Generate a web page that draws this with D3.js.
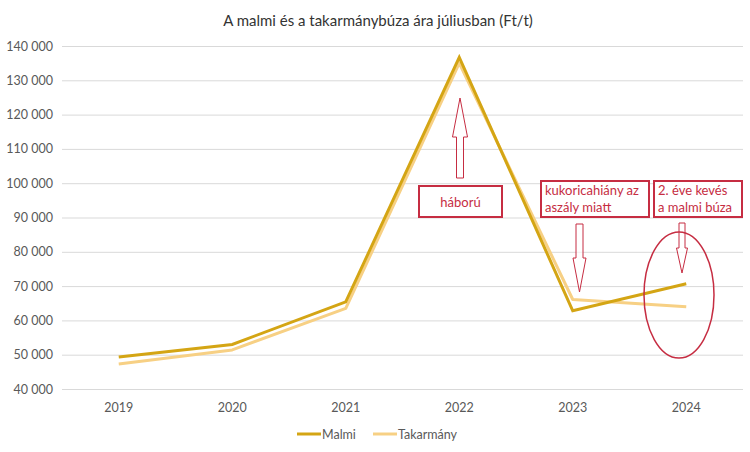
<!DOCTYPE html>
<html><head><meta charset="utf-8">
<script src="https://cdn.jsdelivr.net/npm/d3@7"></script>
<style>body{margin:0;background:#fff}svg{display:block;font-family:Lato,"Open Sans",sans-serif}</style>
</head><body><svg id="c" width="750" height="452"></svg>
<script>
const years = ["2019","2020","2021","2022","2023","2024"];
const malmi = [49300, 53000, 65400, 136700, 62800, 70700];
const takarmany = [47300, 51400, 63500, 135000, 66100, 64000];
const yTicks = [40000,50000,60000,70000,80000,90000,100000,110000,120000,130000,140000];
const seriesNames = ["Malmi","Takarmány"];
const seriesColors = ["#D4A514","#F7D084"];

const svg = d3.select("#c");
const x = d3.scaleBand().domain(years).range([62,743]);
const y = d3.scaleLinear().domain([40000,140000]).range([389,46]);
const fmt = v => d3.format(",")(v).replace(/,/g," ");

svg.append("text").attr("x",378).attr("y",26).attr("text-anchor","middle")
  .attr("font-size",15).attr("fill","#333").text("A malmi és a takarmánybúza ára júliusban (Ft/t)");

const ya = svg.append("g").attr("transform","translate(62,0)")
  .call(d3.axisLeft(y).tickValues(yTicks).tickSize(-681).tickFormat(fmt).tickPadding(9));
ya.select(".domain").remove();
ya.selectAll("line").attr("stroke","#D9D9D9");
ya.selectAll("text").attr("font-size",12.5).attr("fill","#595959").attr("font-family","Lato,sans-serif");

const xa = svg.append("g").attr("transform","translate(0,389)")
  .call(d3.axisBottom(x).tickSize(0).tickPadding(14));
xa.select(".domain").remove();
xa.selectAll("text").attr("font-size",12.5).attr("fill","#595959").attr("font-family","Lato,sans-serif");

const line = d3.line().x((d,i)=>x(years[i])+x.bandwidth()/2).y(d=>y(d));
svg.append("path").datum(takarmany).attr("d",line).attr("fill","none")
  .attr("stroke",seriesColors[1]).attr("stroke-width",3).attr("stroke-linejoin","round");
svg.append("path").datum(malmi).attr("d",line).attr("fill","none")
  .attr("stroke",seriesColors[0]).attr("stroke-width",3).attr("stroke-linejoin","miter");

// legend
const lg = svg.append("g");
[[297,seriesNames[0]],[373,seriesNames[1]]].forEach((p,i)=>{
  lg.append("line").attr("x1",p[0]).attr("x2",p[0]+24).attr("y1",434).attr("y2",434)
    .attr("stroke",seriesColors[i]).attr("stroke-width",3);
  lg.append("text").attr("x",p[0]+25).attr("y",438.5).attr("font-size",12.5).attr("fill","#595959").text(p[1]);
});

// annotations
const red = "#C62D42";
const ann = svg.append("g");
function box(x0,y0,w,h,lines){
  ann.append("rect").attr("x",x0).attr("y",y0).attr("width",w).attr("height",h)
    .attr("fill","#fff").attr("stroke",red).attr("stroke-width",2);
  lines.forEach((t,i)=>{
    ann.append("text").attr("x",lines.length===1?x0+w/2:x0+4).attr("y",lines.length===1?y0+h/2+5:y0+14+i*17)
      .attr("text-anchor",lines.length===1?"middle":"start")
      .attr("font-size",13).attr("fill",red).text(t);
  });
}
box(419,186,83,31,["háború"]);
box(541,181,108,36,["kukoricahiány az","aszály miatt"]);
box(654,181,88,36,["2. éve kevés","a malmi búza"]);

function arrow(cx,sw,hw,yTail,yBase,yTip){
  const pts=[[cx-sw/2,yTail],[cx-sw/2,yBase],[cx-hw/2,yBase],[cx,yTip],[cx+hw/2,yBase],[cx+sw/2,yBase],[cx+sw/2,yTail]];
  ann.append("path").attr("d",d3.line()(pts)+"Z").attr("fill","#fff").attr("fill-opacity",0.6)
    .attr("stroke",red).attr("stroke-width",1);
}
arrow(460,7,15,178,137,98);
arrow(579.5,7,13,224,258,292);
arrow(682,6,11,223,248,273);

ann.append("ellipse").attr("cx",679).attr("cy",295).attr("rx",35).attr("ry",63)
  .attr("fill","none").attr("stroke",red).attr("stroke-width",1.5);
</script></body></html>
